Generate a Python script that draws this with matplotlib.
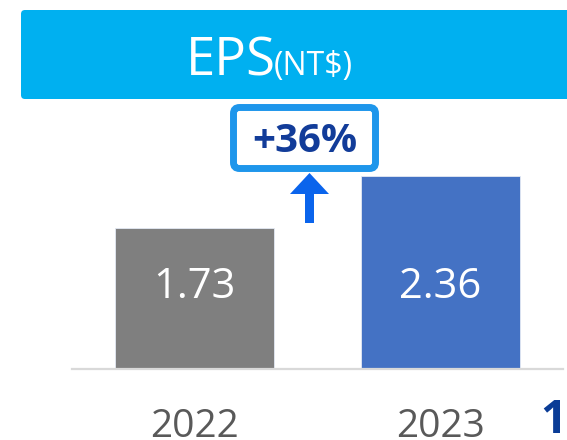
import matplotlib
matplotlib.use('Agg')
import matplotlib.pyplot as plt
from matplotlib.patches import FancyBboxPatch, Polygon
from matplotlib.transforms import Affine2D
import numpy as np

# data
years = ['2022', '2023']
eps = [1.73, 2.36]
bar_colors = ['#7F7F7F', '#4472C4']
growth = '+36%'

W, H = 567, 440
fig = plt.figure(figsize=(W / 100, H / 100), dpi=100)
# pixel coords measured from top-left
pix = Affine2D().scale(1 / W, -1 / H).translate(0, 1) + fig.transFigure

# bars
ax = fig.add_axes([72 / W, 71 / H, 491 / W, 245 / H])
x = np.arange(len(years))
ax.bar(x, eps, width=0.648, color=bar_colors, edgecolor='#E4EAF4', linewidth=0.6)
ax.set_xlim(-0.5, 1.5)
ax.set_ylim(0, 3)
for s in ['top', 'left', 'right']:
    ax.spines[s].set_visible(False)
ax.spines['bottom'].set_color('#D9D9D9')
ax.spines['bottom'].set_linewidth(1.6)
ax.set_yticks([])
ax.set_xticks(x, years)
ax.tick_params(axis='x', length=0, pad=28, labelsize=28, labelcolor='#595959')
for lab in ax.get_xticklabels():
    lab.set_fontfamily('Open Sans')
for xi, v in zip(x, eps):
    ax.text(xi, 1.0, '%.2f' % v, ha='center', va='center', color='white',
            fontsize=30, family='Open Sans')

# title banner
banner = FancyBboxPatch((21, 10), 600, 89, boxstyle='round,pad=0,rounding_size=4',
                        transform=pix, facecolor='#00B0F0', edgecolor='none')
fig.patches.append(banner)
fig.text(186 / W, 1 - 75 / H, 'EPS', transform=fig.transFigure, color='white',
         fontsize=38, family='Open Sans', va='baseline', ha='left')
fig.text(274 / W, 1 - 75 / H, '(NT$)', transform=fig.transFigure, color='white',
         fontsize=23, family='Open Sans', va='baseline', ha='left')

# growth badge
badge = FancyBboxPatch((233.5, 107.5), 142, 61, boxstyle='round,pad=0,rounding_size=6',
                       transform=pix, facecolor='white', edgecolor='#1E96EB', linewidth=5)
fig.patches.append(badge)
fig.text(305 / W, 1 - 141 / H, growth, ha='center', va='center', color='#123C99',
         fontsize=29, fontweight='bold', family='Open Sans')

# arrow
arrow = Polygon([(309.5, 173), (329, 194), (314, 194), (314, 223), (305, 223),
                 (305, 194), (290, 194)], closed=True, transform=pix,
                facecolor='#0A64EC', edgecolor='none')
fig.patches.append(arrow)

# cut-off text at right edge
fig.text(540 / W, 1 - 433 / H, '1Q', color='#0A3C96', fontsize=33,
         fontweight='bold', family='Open Sans', va='baseline', ha='left')

fig.savefig('out.png', dpi=100)
